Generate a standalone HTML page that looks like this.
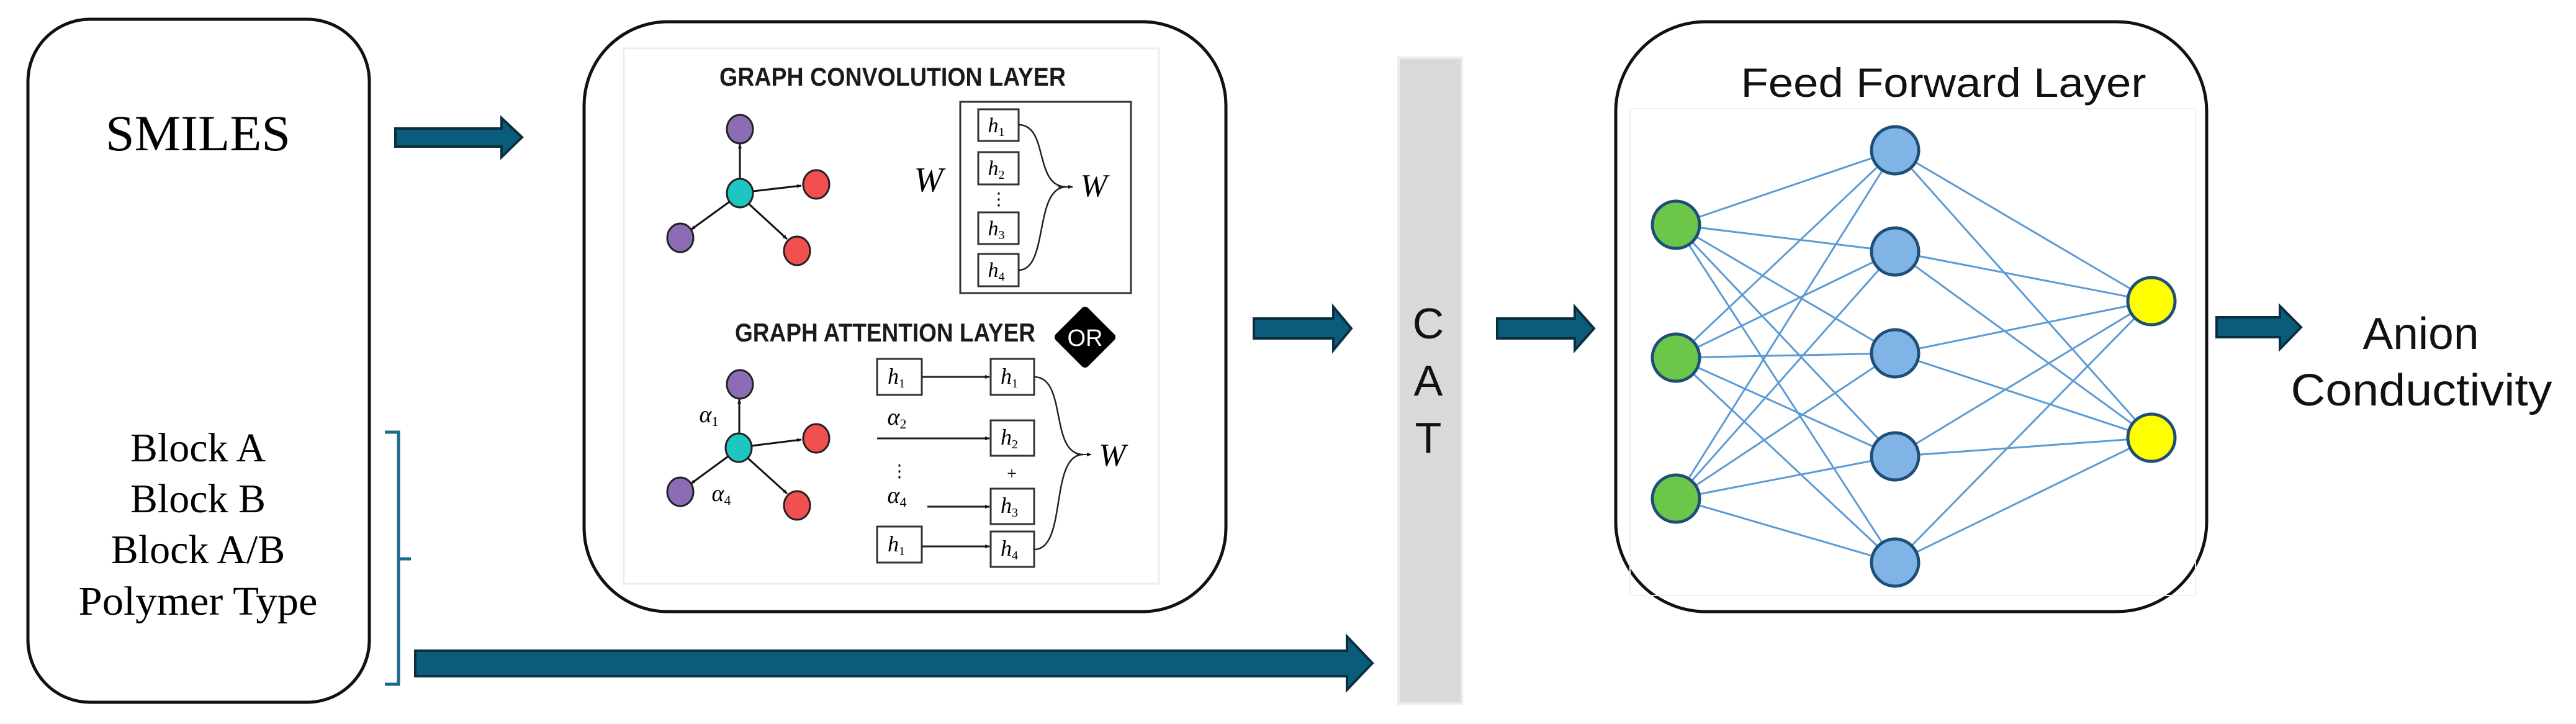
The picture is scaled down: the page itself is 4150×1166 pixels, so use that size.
<!DOCTYPE html>
<html><head><meta charset="utf-8"><style>
html,body{margin:0;padding:0;background:#fff;}
svg{display:block;}
</style></head><body>
<svg width="4150" height="1166" viewBox="0 0 4150 1166" xmlns="http://www.w3.org/2000/svg">
<defs>
<marker id="ah" markerWidth="8" markerHeight="8" refX="7" refY="4" orient="auto" markerUnits="userSpaceOnUse">
<path d="M0,1 L8,4 L0,7 Z" fill="#111"/></marker>
</defs>
<!-- Left box -->
<rect x="45" y="31" width="550" height="1100" rx="100" fill="#fff" stroke="#111" stroke-width="5"/>
<text x="319" y="242" font-family="Liberation Serif, serif" font-size="82" text-anchor="middle" textLength="298" lengthAdjust="spacingAndGlyphs" fill="#000">SMILES</text>
<g font-family="Liberation Serif, serif" font-size="66" text-anchor="middle" fill="#000">
<text x="319" y="743">Block A</text>
<text x="319" y="825">Block B</text>
<text x="319" y="907">Block A/B</text>
<text x="319" y="990" textLength="385" lengthAdjust="spacingAndGlyphs">Polymer Type</text>
</g>
<!-- bracket -->
<path d="M620,696 L642,696 L642,1102 L620,1102 M642,900 L662,900" fill="none" stroke="#1b6a8a" stroke-width="5"/>
<!-- arrows -->
<g fill="#0b5b7b" stroke="#0a2f40" stroke-width="4">
<path d="M637,207 L808,207 L808,190 L841,221 L808,253 L808,236 L637,236 Z"/>
<path d="M669,1048 L2170,1048 L2170,1025 L2211,1068 L2170,1111 L2170,1089 L669,1089 Z"/>
<path d="M2020,513 L2148,513 L2148,494 L2177,529 L2148,564 L2148,545 L2020,545 Z"/>
<path d="M2412,513 L2537,513 L2537,494 L2568,529 L2537,564 L2537,545 L2412,545 Z"/>
<path d="M3571,511 L3673,511 L3673,493 L3707,527 L3673,562 L3673,543 L3571,543 Z"/>
</g>
<!-- middle box -->
<rect x="941" y="35" width="1034" height="950" rx="135" fill="#fff" stroke="#111" stroke-width="5"/>
<rect x="1005" y="78" width="862" height="862" fill="#fff" stroke="#ececec" stroke-width="3"/>
<text x="1438" y="138" font-family="Liberation Sans, sans-serif" font-weight="bold" font-size="42" text-anchor="middle" textLength="558" lengthAdjust="spacingAndGlyphs" fill="#1a1a1a">GRAPH CONVOLUTION LAYER</text>
<!-- conv graph -->
<g stroke="#111" stroke-width="3" marker-end="url(#ah)">
<line x1="1192" y1="289" x2="1192" y2="232"/>
<line x1="1213" y1="308" x2="1291" y2="299"/>
<line x1="1175" y1="325" x2="1113" y2="370"/>
<line x1="1206" y1="328" x2="1268" y2="385"/>
</g>
<g stroke="#222" stroke-width="3">
<ellipse cx="1192" cy="208" rx="21" ry="23" fill="#8c6cb5"/>
<ellipse cx="1192" cy="311" rx="21" ry="23" fill="#1fc5c0"/>
<ellipse cx="1315" cy="297" rx="21" ry="23" fill="#f25050"/>
<ellipse cx="1096" cy="383" rx="21" ry="23" fill="#8c6cb5"/>
<ellipse cx="1284" cy="404" rx="21" ry="23" fill="#f25050"/>
</g>
<text x="1496" y="308" font-family="Liberation Serif, serif" font-style="italic" font-size="56" text-anchor="middle">W</text>
<rect x="1547" y="164" width="275" height="308" fill="none" stroke="#333" stroke-width="3"/>
<g fill="#fff" stroke="#333" stroke-width="3">
<rect x="1576" y="176" width="65" height="51"/>
<rect x="1576" y="245" width="65" height="52"/>
<rect x="1576" y="342" width="65" height="51"/>
<rect x="1576" y="409" width="65" height="52"/>
</g>
<g font-family="Liberation Serif, serif" font-style="italic" font-size="34" text-anchor="middle">
<text x="1605" y="213">h<tspan font-size="20" font-style="normal" dy="6">1</tspan></text>
<text x="1605" y="282">h<tspan font-size="20" font-style="normal" dy="6">2</tspan></text>
<text x="1605" y="379">h<tspan font-size="20" font-style="normal" dy="6">3</tspan></text>
<text x="1605" y="446">h<tspan font-size="20" font-style="normal" dy="6">4</tspan></text>
</g>
<text x="1609" y="330" font-family="Liberation Serif, serif" font-size="28" text-anchor="middle">⋮</text>
<path d="M1641,201 C1690,201 1665,301 1718,301 M1641,435 C1690,435 1665,301 1718,301" fill="none" stroke="#222" stroke-width="2.5"/>
<line x1="1705" y1="301" x2="1728" y2="301" stroke="#222" stroke-width="2" marker-end="url(#ah)"/>
<text x="1762" y="316" font-family="Liberation Serif, serif" font-style="italic" font-size="52" text-anchor="middle">W</text>
<text x="1426" y="550" font-family="Liberation Sans, sans-serif" font-weight="bold" font-size="42" text-anchor="middle" textLength="484" lengthAdjust="spacingAndGlyphs" fill="#1a1a1a">GRAPH ATTENTION LAYER</text>
<path d="M1748,501 L1790,543 L1748,585 L1706,543 Z" fill="#000" stroke="#000" stroke-width="14" stroke-linejoin="round"/>
<text x="1748" y="557" font-family="Liberation Sans, sans-serif" font-size="38" text-anchor="middle" fill="#fff">OR</text>
<!-- attention graph -->
<g stroke="#111" stroke-width="3" marker-end="url(#ah)">
<line x1="1191" y1="699" x2="1191" y2="643"/>
<line x1="1211" y1="718" x2="1291" y2="708"/>
<line x1="1173" y1="735" x2="1113" y2="779"/>
<line x1="1205" y1="738" x2="1268" y2="795"/>
</g>
<g stroke="#222" stroke-width="3">
<ellipse cx="1192" cy="619" rx="21" ry="23" fill="#8c6cb5"/>
<ellipse cx="1190" cy="721" rx="21" ry="23" fill="#1fc5c0"/>
<ellipse cx="1315" cy="706" rx="21" ry="23" fill="#f25050"/>
<ellipse cx="1096" cy="792" rx="21" ry="23" fill="#8c6cb5"/>
<ellipse cx="1284" cy="814" rx="21" ry="23" fill="#f25050"/>
</g>
<g font-family="Liberation Serif, serif" font-style="italic" font-size="38" text-anchor="middle">
<text x="1142" y="680">α<tspan font-size="22" font-style="normal" dy="6">1</tspan></text>
<text x="1162" y="807">α<tspan font-size="22" font-style="normal" dy="6">4</tspan></text>
<text x="1445" y="684">α<tspan font-size="22" font-style="normal" dy="6">2</tspan></text>
<text x="1445" y="810">α<tspan font-size="22" font-style="normal" dy="6">4</tspan></text>
</g>
<text x="1449" y="768" font-family="Liberation Serif, serif" font-size="28" text-anchor="middle">⋮</text>
<text x="1630" y="772" font-family="Liberation Serif, serif" font-size="28" text-anchor="middle">+</text>
<g fill="#fff" stroke="#333" stroke-width="3">
<rect x="1413" y="578" width="72" height="58"/>
<rect x="1596" y="578" width="70" height="58"/>
<rect x="1596" y="677" width="70" height="57"/>
<rect x="1596" y="787" width="70" height="57"/>
<rect x="1413" y="848" width="72" height="58"/>
<rect x="1596" y="856" width="70" height="57"/>
</g>
<g stroke="#222" stroke-width="3" marker-end="url(#ah)">
<line x1="1485" y1="607" x2="1594" y2="607"/>
<line x1="1413" y1="706" x2="1594" y2="706"/>
<line x1="1494" y1="816" x2="1594" y2="816"/>
<line x1="1485" y1="880" x2="1594" y2="880"/>
</g>
<g font-family="Liberation Serif, serif" font-style="italic" font-size="36" text-anchor="middle">
<text x="1444" y="618">h<tspan font-size="20" font-style="normal" dy="6">1</tspan></text>
<text x="1626" y="618">h<tspan font-size="20" font-style="normal" dy="6">1</tspan></text>
<text x="1626" y="716">h<tspan font-size="20" font-style="normal" dy="6">2</tspan></text>
<text x="1626" y="826">h<tspan font-size="20" font-style="normal" dy="6">3</tspan></text>
<text x="1444" y="888">h<tspan font-size="20" font-style="normal" dy="6">1</tspan></text>
<text x="1626" y="895">h<tspan font-size="20" font-style="normal" dy="6">4</tspan></text>
</g>
<path d="M1666,607 C1720,607 1690,732 1745,732 M1666,885 C1720,885 1690,732 1745,732" fill="none" stroke="#222" stroke-width="2.5"/>
<line x1="1735" y1="732" x2="1758" y2="732" stroke="#222" stroke-width="2" marker-end="url(#ah)"/>
<text x="1792" y="750" font-family="Liberation Serif, serif" font-style="italic" font-size="52" text-anchor="middle">W</text>
<!-- CAT -->
<rect x="2253" y="93" width="102" height="1040" fill="#d9d9d9" stroke="#ececec" stroke-width="4"/>
<g font-family="Liberation Sans, sans-serif" font-size="70" text-anchor="middle" fill="#111">
<text x="2301" y="545">C</text>
<text x="2301" y="637">A</text>
<text x="2301" y="729">T</text>
</g>
<!-- FF box -->
<rect x="2603" y="35" width="952" height="950" rx="145" fill="#fff" stroke="#111" stroke-width="5"/>
<rect x="2626" y="175" width="911" height="784" fill="none" stroke="#f0f0f0" stroke-width="2"/>
<text x="3131" y="156" font-family="Liberation Sans, sans-serif" font-size="66" text-anchor="middle" textLength="653" lengthAdjust="spacingAndGlyphs" fill="#111">Feed Forward Layer</text>
<g stroke="#5b9bd5" stroke-width="3">
<line x1="2700" y1="362" x2="3053" y2="242"/><line x1="2700" y1="362" x2="3053" y2="405"/><line x1="2700" y1="362" x2="3053" y2="569"/><line x1="2700" y1="362" x2="3053" y2="735"/><line x1="2700" y1="362" x2="3053" y2="906"/>
<line x1="2700" y1="576" x2="3053" y2="242"/><line x1="2700" y1="576" x2="3053" y2="405"/><line x1="2700" y1="576" x2="3053" y2="569"/><line x1="2700" y1="576" x2="3053" y2="735"/><line x1="2700" y1="576" x2="3053" y2="906"/>
<line x1="2700" y1="803" x2="3053" y2="242"/><line x1="2700" y1="803" x2="3053" y2="405"/><line x1="2700" y1="803" x2="3053" y2="569"/><line x1="2700" y1="803" x2="3053" y2="735"/><line x1="2700" y1="803" x2="3053" y2="906"/>
<line x1="3053" y1="242" x2="3466" y2="485"/><line x1="3053" y1="405" x2="3466" y2="485"/><line x1="3053" y1="569" x2="3466" y2="485"/><line x1="3053" y1="735" x2="3466" y2="485"/><line x1="3053" y1="906" x2="3466" y2="485"/>
<line x1="3053" y1="242" x2="3466" y2="705"/><line x1="3053" y1="405" x2="3466" y2="705"/><line x1="3053" y1="569" x2="3466" y2="705"/><line x1="3053" y1="735" x2="3466" y2="705"/><line x1="3053" y1="906" x2="3466" y2="705"/>
</g>
<g stroke="#1f4e79" stroke-width="5">
<ellipse cx="2700" cy="362" rx="38" ry="38" fill="#6cc64a"/>
<ellipse cx="2700" cy="576" rx="38" ry="38" fill="#6cc64a"/>
<ellipse cx="2700" cy="803" rx="38" ry="38" fill="#6cc64a"/>
<ellipse cx="3053" cy="242" rx="38" ry="38" fill="#80b4e6"/>
<ellipse cx="3053" cy="405" rx="38" ry="38" fill="#80b4e6"/>
<ellipse cx="3053" cy="569" rx="38" ry="38" fill="#80b4e6"/>
<ellipse cx="3053" cy="735" rx="38" ry="38" fill="#80b4e6"/>
<ellipse cx="3053" cy="906" rx="38" ry="38" fill="#80b4e6"/>
<ellipse cx="3466" cy="485" rx="38" ry="38" fill="#ffff00"/>
<ellipse cx="3466" cy="705" rx="38" ry="38" fill="#ffff00"/>
</g>
<g font-family="Liberation Sans, sans-serif" font-size="72" text-anchor="middle" fill="#111">
<text x="3900" y="562" textLength="187" lengthAdjust="spacingAndGlyphs">Anion</text>
<text x="3901" y="653" textLength="421" lengthAdjust="spacingAndGlyphs">Conductivity</text>
</g>
</svg>
</body></html>
